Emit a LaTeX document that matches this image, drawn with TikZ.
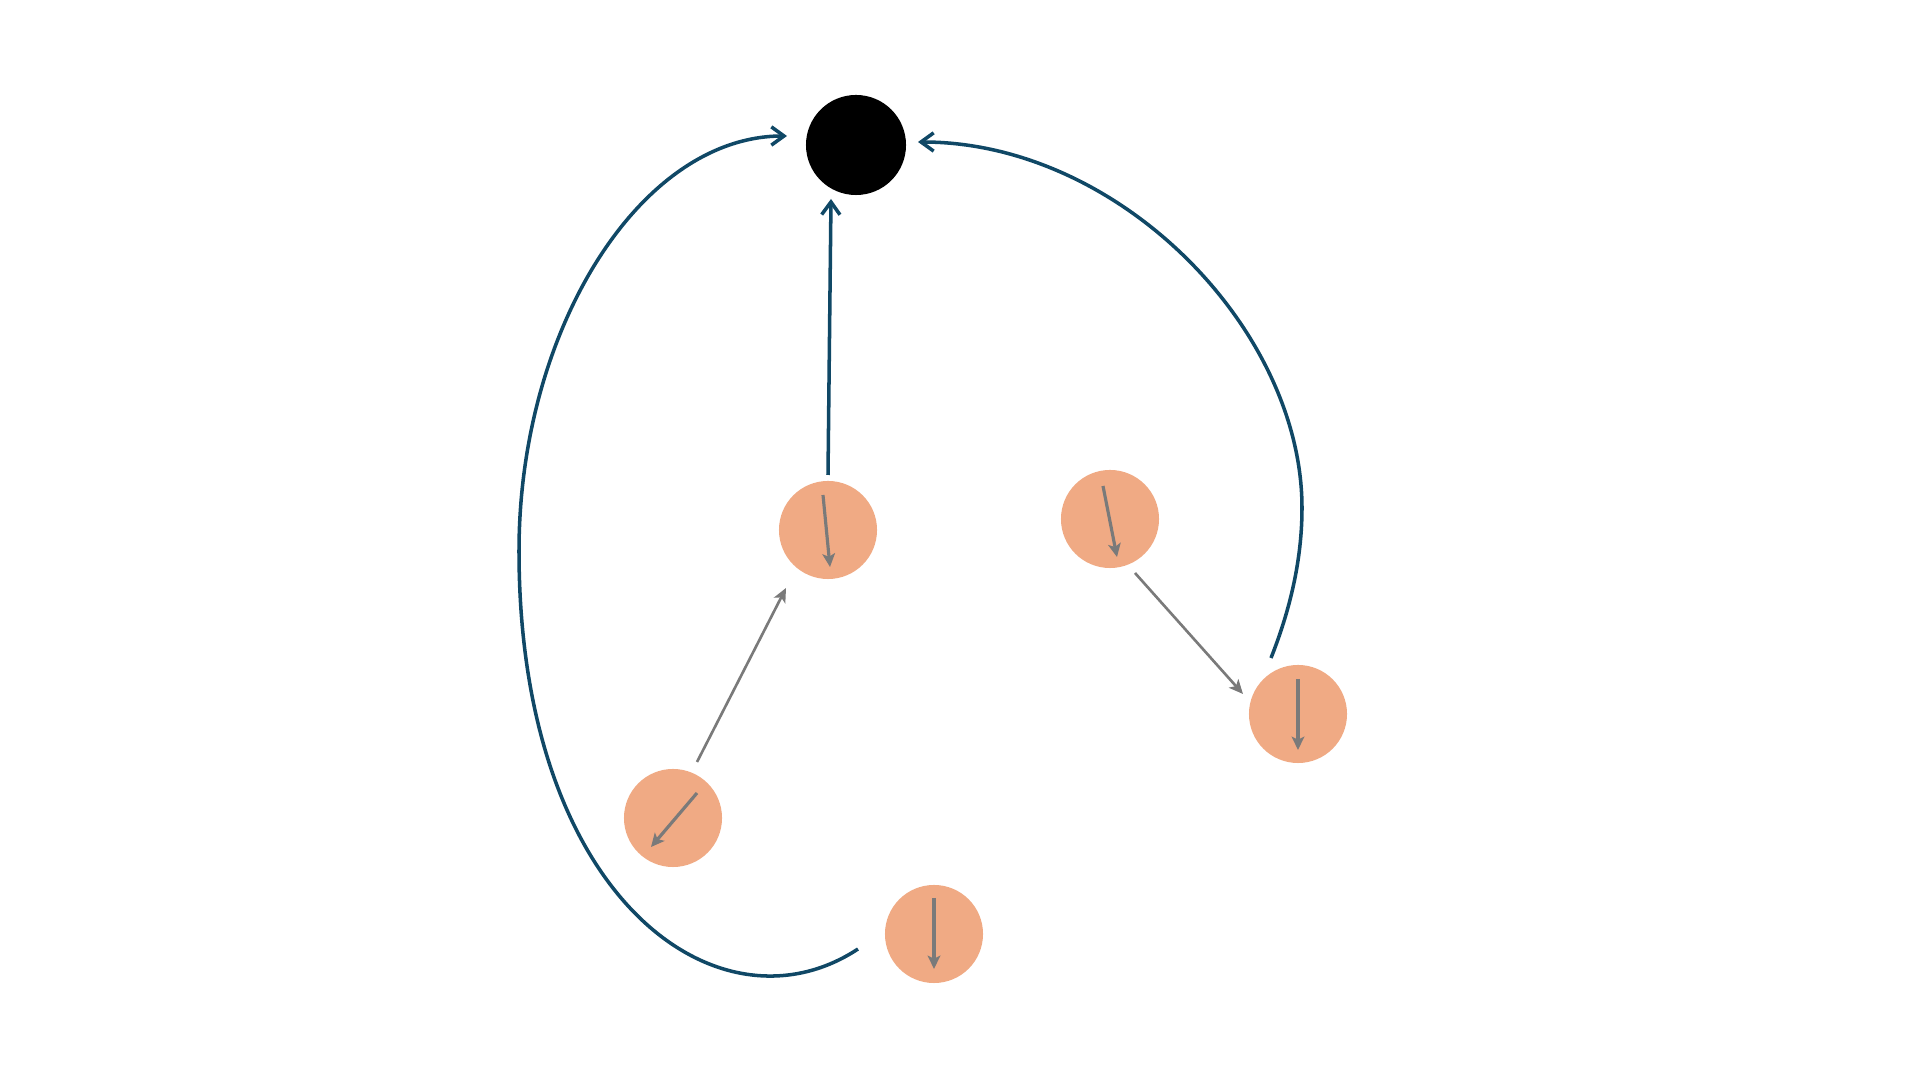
\documentclass[tikz,border=0pt]{standalone}
\usetikzlibrary{arrows.meta}
\definecolor{linkblue}{RGB}{16,72,102}
\definecolor{peach}{RGB}{240,170,132}
\definecolor{arrgray}{RGB}{122,122,122}
\begin{document}
\begin{tikzpicture}[x=0.01cm,y=-0.01cm,
  hub/.style={circle,fill=black,minimum size=1cm,inner sep=0pt},
  agent/.style={circle,fill=peach,minimum size=0.98cm,inner sep=0pt},
  bluelink/.style={draw=linkblue,line width=1pt,-{Straight Barb[length=3.6pt,width=5.2pt,line width=1pt]}},
  graylink/.style={draw=arrgray,line width=0.75pt,-{Stealth[length=4pt,width=3.6pt,inset=1pt]}},
  innerarrow/.style={draw=arrgray,line width=0.9pt,-{Stealth[length=3.8pt,width=3.6pt,inset=0.9pt]}}]
\useasboundingbox (0,0) rectangle (1920,1080);
\fill[white] (0,0) rectangle (1920,1080);

\node[hub] (top) at (856,145) {};
\node[agent] (A) at (828,530) {};
\node[agent] (B) at (1110,519) {};
\node[agent] (C) at (673,818) {};
\node[agent] (D) at (1298,714) {};
\node[agent] (E) at (934,934) {};

% inner arrows (directions)
\draw[innerarrow] (823,495) -- (830,567);
\draw[innerarrow] (1103,486) -- (1117,557);
\draw[innerarrow] (697,793) -- (651,847);
\draw[innerarrow] (1298,679) -- (1298,750);
\draw[innerarrow] (934,898) -- (934,969);

% connector end points
\coordinate (a0) at (828,475);
\coordinate (t0) at (831,199);
\coordinate (c0) at (697,762);
\coordinate (a1) at (786,588);
\coordinate (b0) at (1135,573);
\coordinate (d1) at (1243,694);
\coordinate (e0) at (858,949);
\coordinate (t1) at (787,136);
\coordinate (d0) at (1271,658);
\coordinate (t2) at (918,142);

% gray connectors
\draw[graylink] (c0) -- (a1);
\draw[graylink] (b0) -- (d1);

% blue connectors
\draw[bluelink] (a0) -- (t0);
\draw[bluelink] (e0) .. controls (720,1040) and (519,900) .. (519,551)
   .. controls (519,330) and (640,136) .. (t1);
\draw[bluelink] (d0) .. controls (1290,610) and (1302,560) .. (1302,508)
   .. controls (1302,330) and (1120,142) .. (t2);
\end{tikzpicture}
\end{document}
